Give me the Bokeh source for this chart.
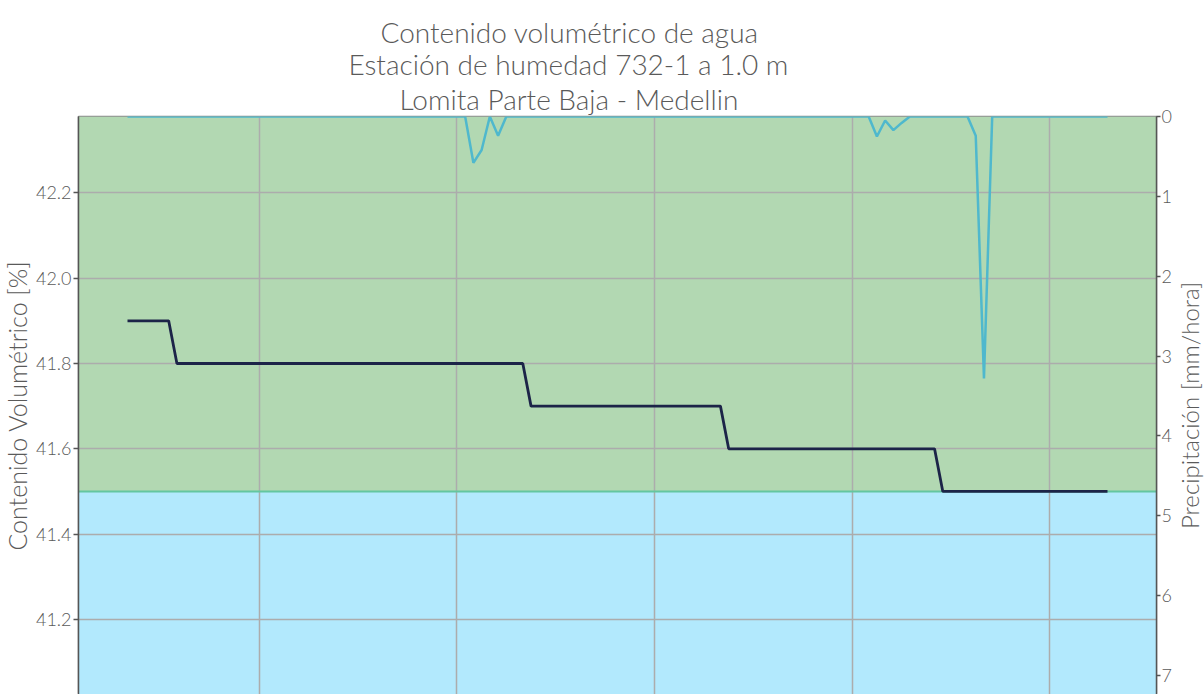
import math

from bokeh.plotting import figure
from bokeh.layouts import row
from bokeh.core.properties import value
from bokeh.models import (Range1d, LinearAxis, FixedTicker, NumeralTickFormatter,
                          BoxAnnotation, Span, Title, ColumnDataSource)
from bokeh.embed import file_html
from bokeh.resources import INLINE

# Hourly readings, hours counted from midnight of the first day (first reading 08:00)
hours = list(range(8, 128))

# Volumetric water content: constant levels and how many hourly readings each lasts
vwc_levels = [41.9, 41.8, 41.7, 41.6, 41.5]
vwc_runs = [6, 43, 24, 26, 21]

# Hourly rainfall [mm/h]; hours not listed recorded no rain
rain_hours = [50, 51, 53, 99, 100, 101, 102, 111, 112]
rain_mm = [0.58, 0.42, 0.24, 0.25, 0.05, 0.17, 0.08, 0.24, 3.28]

# Threshold separating the two moisture bands
threshold = 41.5

# Midnight marks for the vertical grid
day_marks = [24, 48, 72, 96, 120]
vwc_ticks = [41.2, 41.4, 41.6, 41.8, 42.0, 42.2]
rain_ticks = [0, 1, 2, 3, 4, 5, 6, 7]

title_lines = ["Contenido volumétrico de agua",
               "Estación de humedad 732-1 a 1.0 m",
               "Lomita Parte Baja - Medellin"]
vwc_label = "Contenido Volumétrico [%]"
rain_label = "Precipitación [mm/hora]"

# left-aligned title lines, shifted so that each sits centred at x ≈ 565 px
title_offsets = [302, 270, 321]
title_standoffs = [-5, -4, 2]

vwc = []
for level, run in zip(vwc_levels, vwc_runs):
    vwc.extend([level] * run)
rain_lookup = dict(zip(rain_hours, rain_mm))
rain = [rain_lookup.get(h, 0.0) for h in hours]

src = ColumnDataSource(dict(t=hours, vwc=vwc, rain=rain))

FONT = "Lato Light, Lato"
TXT = "#5a5a5a"
AX = "#555555"

H = 694
LEFT_STRIP_W = 32
RIGHT_STRIP_W = 30
MAIN_W = 1204 - LEFT_STRIP_W - RIGHT_STRIP_W
TOP = 116

span_h = hours[-1] - hours[0]
p = figure(width=MAIN_W, height=H, output_backend="svg", toolbar_location=None,
           x_range=Range1d(hours[0] - 0.05 * span_h, hours[-1] + 0.05 * span_h),
           y_range=Range1d(41.024, 42.379),
           min_border_left=74 - LEFT_STRIP_W, min_border_right=14,
           min_border_top=TOP, min_border_bottom=0)
p.extra_y_ranges = {"rain": Range1d(7.238, 0)}

# Title: three lines stacked above the frame (first added sits lowest)
for line, off, so in reversed(list(zip(title_lines, title_offsets, title_standoffs))):
    p.add_layout(Title(text=line, align="left", offset=off, text_font=FONT,
                       text_font_size="28px", text_font_style="normal",
                       text_color=TXT, standoff=so), "above")

p.xaxis.visible = False
p.xgrid.ticker = FixedTicker(ticks=day_marks)
p.ygrid.ticker = FixedTicker(ticks=vwc_ticks)
for g in (p.xgrid[0], p.ygrid[0]):
    g.grid_line_color = "#acacac"
    g.grid_line_width = 1.5

ya = p.yaxis[0]
ya.ticker = FixedTicker(ticks=vwc_ticks)
ya.formatter = NumeralTickFormatter(format="0.0")

ra = LinearAxis(y_range_name="rain", ticker=FixedTicker(ticks=rain_ticks))
p.add_layout(ra, "right")

for ax in (ya, ra):
    ax.axis_line_color = AX
    ax.axis_line_width = 1.5
    ax.major_tick_line_color = AX
    ax.major_tick_line_width = 1.5
    ax.major_tick_out = 5
    ax.major_tick_in = 0
    ax.minor_tick_line_color = None
    ax.major_label_text_font = FONT
    ax.major_label_text_font_size = "18px"
    ax.major_label_text_color = TXT
    ax.major_label_standoff = 2
ra.major_tick_out = 4
ra.major_label_standoff = 1

p.outline_line_color = "#8c8c8c"
p.outline_line_width = 1.5

# Moisture bands
p.add_layout(BoxAnnotation(bottom=threshold, fill_color="#b2d8b2", fill_alpha=1,
                           line_color=None, level="image"))
p.add_layout(BoxAnnotation(top=threshold, fill_color="#b2e9fd", fill_alpha=1,
                           line_color=None, level="image"))
p.add_layout(Span(location=threshold, dimension="width", line_color="#63c6a0",
                  line_width=2, level="underlay"))

p.line("t", "rain", source=src, y_range_name="rain", line_color="#4fb8cd",
       line_width=2.5)
p.line("t", "vwc", source=src, line_color="#1c2448", line_width=2.8)


def label_strip(text, width, size):
    """Narrow strip holding a vertical axis title that reads bottom-to-top.

    Its frame lines up with the main frame, so the y range spans the same
    pixel rows (TOP..H) and the title is centred on the frame."""
    s = figure(width=width, height=H, output_backend="svg",
               toolbar_location=None,
               x_range=Range1d(0, width), y_range=Range1d(H, TOP),
               x_axis_location=None, y_axis_location=None,
               min_border_left=0, min_border_right=0, min_border_top=0,
               min_border_bottom=0)
    s.outline_line_color = None
    s.grid.visible = False
    s.text(x=[width / 2], y=[(TOP + H) / 2], text=[text], angle=math.pi / 2,
           text_align="center", text_baseline="middle",
           text_font=value(FONT), text_font_size=size, text_color=TXT)
    return s


left_strip = label_strip(vwc_label, LEFT_STRIP_W, "25px")
right_strip = label_strip(rain_label, RIGHT_STRIP_W, "24px")

layout = row(left_strip, p, right_strip, spacing=0)
open("out.html", "w").write(file_html(layout, INLINE))
